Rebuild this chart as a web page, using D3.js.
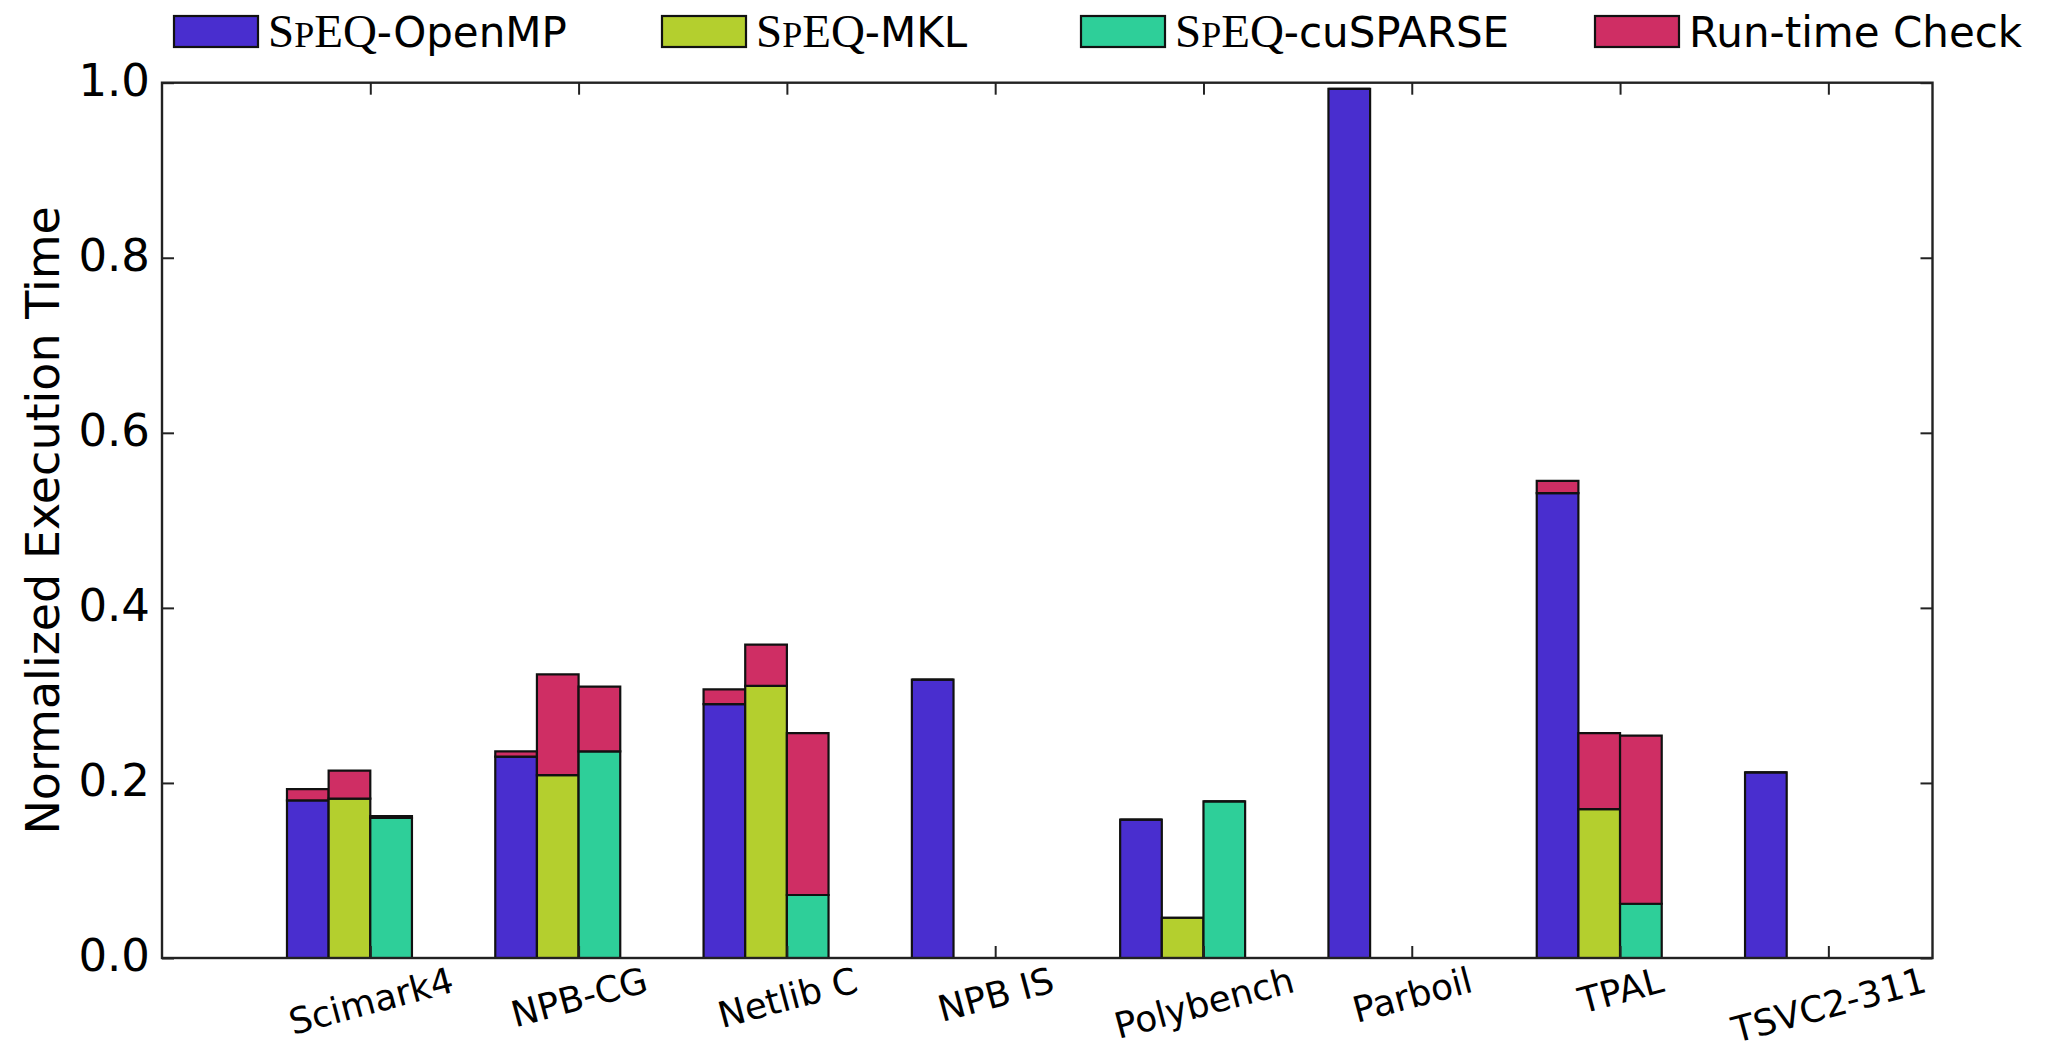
<!DOCTYPE html>
<html>
<head>
<meta charset="utf-8">
<script src="https://cdn.jsdelivr.net/npm/d3@7"></script>
<style>
  body { margin: 0; background: #fff; }
  svg { display: block; }
  text { font-family: "DejaVu Sans", sans-serif; fill: #000; }
</style>
</head>
<body>
<div class="chart"></div>
<script>
// benchmarks on the x axis
const benchmarks = ['Scimark4', 'NPB-CG', 'Netlib C', 'NPB IS', 'Polybench', 'Parboil', 'TPAL', 'TSVC2-311']

// normalized execution time of each variant
const openmp = [0.180, 0.230, 0.290, 0.318, 0.158, 0.993, 0.531, 0.212]
const mkl = [0.182, 0.209, 0.311, 0, 0.046, 0, 0.170, 0]
const cusparse = [0.160, 0.236, 0.072, 0, 0.179, 0, 0.062, 0]

// run-time check overhead stacked on top of each variant
const openmpCheck = [0.013, 0.006, 0.017, 0, 0, 0, 0.014, 0]
const mklCheck = [0.032, 0.115, 0.047, 0, 0, 0, 0.087, 0]
const cusparseCheck = [0.002, 0.074, 0.185, 0, 0, 0, 0.192, 0]

const seriesNames = ['OpenMP', 'MKL', 'cuSPARSE']
const checkName = 'Run-time Check'
const yTicks = [0, 0.2, 0.4, 0.6, 0.8, 1.0]

const colors = ['#492ecf', '#b4cf2e', '#2ecf99', '#cf2e64']

const width = 2055
const height = 1050
const barW = 0.2

const x = d3.scaleLinear().domain([-0.6, 7.9]).range([162, 1932.5])
const y = d3.scaleLinear().domain([0, 1]).range([958, 82.7])

const svg = d3.select('.chart').append('svg')
  .attr('width', width)
  .attr('height', height)

// 组装每一段柱子
const bases = [openmp, mkl, cusparse]
const checks = [openmpCheck, mklCheck, cusparseCheck]
const segments = []
bases.forEach((vals, k) => {
  vals.forEach((v, i) => {
    segments.push({ i, k, y0: 0, y1: v, color: colors[k] })
    segments.push({ i, k, y0: v, y1: v + checks[k][i], color: colors[3] })
  })
})

// paths so that zero-height bars still show their edge
svg.append('g').attr('class', 'bars')
  .selectAll('path')
  .data(segments)
  .join('path')
  .attr('d', d => {
    const x0 = x(d.i + d.k * barW)
    const x1 = x(d.i + (d.k + 1) * barW)
    return `M${x0},${y(d.y0)}L${x0},${y(d.y1)}L${x1},${y(d.y1)}L${x1},${y(d.y0)}Z`
  })
  .attr('fill', d => d.color)
  .attr('stroke', '#111')
  .attr('stroke-width', 2.2)

// axes, ticks pointing inward on all four sides
const tickLen = 12
const xTickVals = benchmarks.map((b, i) => i + 2 * barW)

const gLeft = svg.append('g').attr('transform', `translate(${x.range()[0]},0)`)
  .call(d3.axisLeft(y).tickValues(yTicks).tickFormat(d3.format('.1f'))
    .tickSizeInner(-tickLen).tickSizeOuter(0).tickPadding(12))
gLeft.selectAll('text').attr('font-size', 45).attr('dy', '0.28em')

svg.append('g').attr('transform', `translate(${x.range()[1]},0)`)
  .call(d3.axisRight(y).tickValues(yTicks).tickFormat('')
    .tickSizeInner(-tickLen).tickSizeOuter(0))

svg.append('g').attr('transform', `translate(0,${y.range()[1]})`)
  .call(d3.axisTop(x).tickValues(xTickVals).tickFormat('')
    .tickSizeInner(-tickLen).tickSizeOuter(0))

const gBottom = svg.append('g').attr('transform', `translate(0,${y.range()[0]})`)
  .call(d3.axisBottom(x).tickValues(xTickVals).tickFormat((d, i) => benchmarks[i])
    .tickSizeInner(-tickLen).tickSizeOuter(0))

// rotated category labels, centred under each tick
const angle = 15
const labelSize = 36
gBottom.selectAll('text')
  .attr('font-size', labelSize)
  .attr('text-anchor', 'middle')
  .attr('y', 0)
  .attr('dy', '0.365em')
  .each(function () {
    const len = this.getComputedTextLength()
    const rad = angle * Math.PI / 180
    const h = len * Math.sin(rad) + 0.73 * labelSize * Math.cos(rad)
    const cy = 8 + h / 2
    d3.select(this).attr('transform', `translate(0,${cy}) rotate(${-angle})`)
  })

svg.selectAll('.domain').remove()
svg.selectAll('.tick line').attr('stroke', '#222').attr('stroke-width', 2)

// frame
svg.append('rect')
  .attr('x', x.range()[0])
  .attr('y', y.range()[1])
  .attr('width', x.range()[1] - x.range()[0])
  .attr('height', y.range()[0] - y.range()[1])
  .attr('fill', 'none')
  .attr('stroke', '#222')
  .attr('stroke-width', 2.4)

// y label
svg.append('text')
  .attr('transform', `translate(59,${(y.range()[0] + y.range()[1]) / 2}) rotate(-90)`)
  .attr('text-anchor', 'middle')
  .attr('font-size', 46)
  .text('Normalized Execution Time')

// legend above the plot
const legendX = [174, 662, 1081, 1595]
const legendItems = seriesNames.map((n, k) => ({ name: n, color: colors[k], speq: true }))
  .concat([{ name: checkName, color: colors[3], speq: false }])

const legend = svg.append('g').attr('class', 'legend')
  .selectAll('g')
  .data(legendItems)
  .join('g')
  .attr('transform', (d, i) => `translate(${legendX[i]},16)`)

legend.append('rect')
  .attr('width', 84)
  .attr('height', 31)
  .attr('fill', d => d.color)
  .attr('stroke', '#111')
  .attr('stroke-width', 2.2)

const legendText = legend.append('text')
  .attr('x', 94)
  .attr('y', 31)
  .attr('font-size', 42)

legendText.filter(d => d.speq).each(function (d) {
  const t = d3.select(this)
  t.append('tspan').attr('font-family', 'Liberation Serif').attr('font-size', 47).text('S')
  t.append('tspan').attr('font-family', 'Liberation Serif').attr('font-size', 36).text('P')
  t.append('tspan').attr('font-family', 'Liberation Serif').attr('font-size', 47).text('EQ')
  t.append('tspan').text('-' + d.name)
})
legendText.filter(d => !d.speq).text(d => d.name)
</script>
</body>
</html>
